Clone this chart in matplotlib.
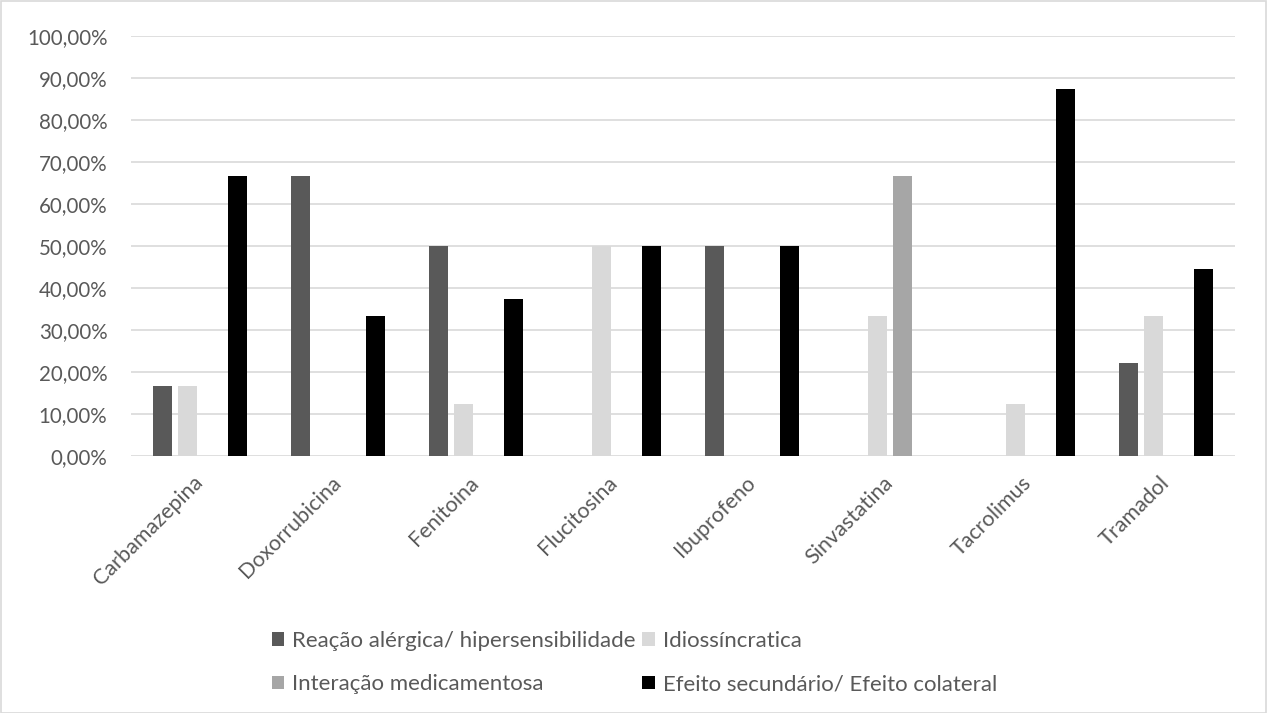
import matplotlib
matplotlib.use("Agg")
import matplotlib.pyplot as plt
import numpy as np
from matplotlib.patches import Rectangle
from matplotlib.ticker import FuncFormatter

plt.rcParams['font.family'] = ['Lato', 'DejaVu Sans']

categories = ["Carbamazepina", "Doxorrubicina", "Fenitoina", "Flucitosina",
              "Ibuprofeno", "Sinvastatina", "Tacrolimus", "Tramadol"]
series_names = ["Reação alérgica/ hipersensibilidade", "Idiossíncratica",
                "Interação medicamentosa", "Efeito secundário/ Efeito colateral"]
reacao = [16.67, 66.67, 50.0, 0.0, 50.0, 0.0, 0.0, 22.22]
idios = [16.67, 0.0, 12.5, 50.0, 0.0, 33.33, 12.5, 33.33]
interacao = [0.0, 0.0, 0.0, 0.0, 0.0, 66.67, 0.0, 0.0]
efeito = [66.67, 33.33, 37.5, 50.0, 50.0, 0.0, 87.5, 44.44]
colors = ["#595959", "#D9D9D9", "#A6A6A6", "#000000"]

fig = plt.figure(figsize=(12.67, 7.13), dpi=100)
fig.patches.append(Rectangle((0.5/1267, 0.5/713), 1 - 1.5/1267, 1 - 1.5/713,
                             transform=fig.transFigure, fill=False,
                             edgecolor="#D9D9D9", linewidth=1.2))
ax = fig.add_axes([131/1267, 1 - 456/713, (1235 - 131)/1267, (456 - 36)/713])

x = np.arange(len(categories))
w = 0.142
step = 0.181
data = [reacao, idios, interacao, efeito]
handles = []
for i, (vals, c, name) in enumerate(zip(data, colors, series_names)):
    b = ax.bar(x + (i - 1.5) * step, vals, width=w, color=c, label=name, zorder=3)
    handles.append(b)

ax.set_xlim(-0.5, len(categories) - 0.5)
ax.set_ylim(0, 100)
ax.set_yticks(np.arange(0, 101, 10))
ax.yaxis.set_major_formatter(FuncFormatter(lambda v, p: f"{v:.2f}%".replace(".", ",")))
ax.grid(axis="y", color="#D9D9D9", linewidth=1.2, zorder=0)
for s in ax.spines.values():
    s.set_visible(False)
ax.tick_params(axis="both", length=0, labelsize=14.8, colors="#595959")
ax.tick_params(axis="y", pad=17)
ax.set_xticks(x)
ax.set_xticklabels(categories, rotation=45, ha="right", va="center",
                   rotation_mode="anchor", fontsize=15.5)
ax.tick_params(axis="x", pad=17)

order = [0, 2, 1, 3]
leg = fig.legend([handles[i] for i in order], [series_names[i] for i in order],
                 ncol=2, loc="upper left", bbox_to_anchor=(252/1267, 1 - 611/713),
                 frameon=False, fontsize=16, handlelength=0.55, handleheight=0.55,
                 handletextpad=0.36, columnspacing=0.3, labelspacing=1.05,
                 labelcolor="#595959")

fig.savefig("out.png", dpi=100)
